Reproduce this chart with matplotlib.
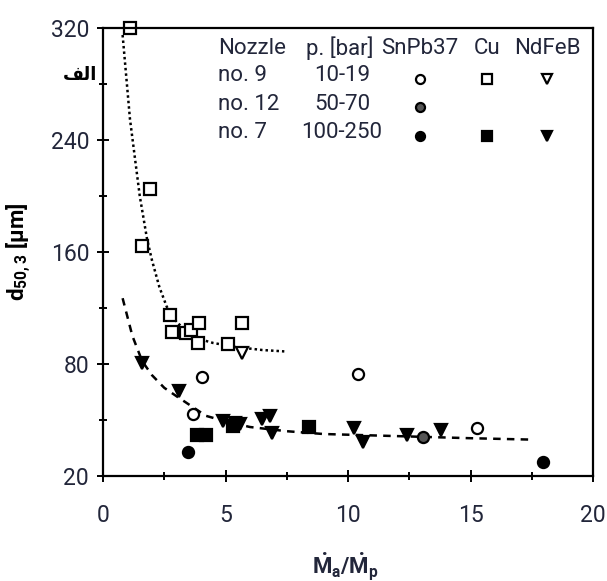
import matplotlib
matplotlib.use("Agg")
import matplotlib.pyplot as plt
from matplotlib.ticker import MultipleLocator

fam = 'Roboto'
plt.rcParams['font.family'] = [fam, 'DejaVu Sans']
plt.rcParams['mathtext.fontset'] = 'custom'
plt.rcParams['mathtext.rm'] = fam
plt.rcParams['mathtext.bf'] = fam + ':bold'
plt.rcParams['mathtext.it'] = fam + ':italic'

TXT = '#22263a'

# SnPb37
snpb_n9_x = [4.05, 3.68, 10.4, 15.25]
snpb_n9_y = [71, 44, 73, 34]
snpb_n12_x = [13.05]
snpb_n12_y = [28]
snpb_n7_x = [3.47, 17.95]
snpb_n7_y = [17, 10]

# Cu
cu_n9_x = [1.1, 1.92, 1.58, 2.73, 2.8, 3.4, 3.6, 3.9, 3.87, 5.1, 5.67]
cu_n9_y = [320, 205, 164, 115, 103, 102, 104, 109, 95, 94, 109]
cu_n7_x = [3.85, 4.2, 5.3, 8.4]
cu_n7_y = [29, 29, 36, 35]

# NdFeB
nd_n9_x = [5.67]
nd_n9_y = [88]
nd_n7_x = [1.6, 3.1, 4.9, 5.4, 5.6, 6.5, 6.8, 6.9, 10.25, 10.6, 12.4, 13.8]
nd_n7_y = [81, 61, 39, 38, 37, 41, 43, 31, 34, 24, 29, 33]

# trend lines
fit_n9_x = [0.8, 1.1, 1.5, 1.8, 2.0, 2.3, 2.6, 3.0, 3.7, 4.5, 5.5, 6.5, 7.4]
fit_n9_y = [315, 255, 200, 169, 154, 135, 121, 110, 99, 95, 92, 90, 89]
fit_n7_x = [0.8, 1.2, 1.6, 2.0, 2.5, 3.0, 3.6, 4.2, 5.0, 6.0, 7.5, 9.0, 11, 13, 15, 17.5]
fit_n7_y = [127, 100, 82, 72, 63, 57, 50, 43, 39, 35, 32, 30, 29, 28, 27, 26]

y_ticks = [0, 80, 160, 240, 320]
y_tick_labels = ['20', '80', '160', '240', '320']

fig = plt.figure(figsize=(6.07, 5.81), dpi=100)
ax = fig.add_axes([0.1697, 0.1807, 0.8073, 0.7711])

ax.plot(fit_n9_x, fit_n9_y, color='k', ls=(0, (1, 1.2)), lw=1.8)
ax.plot(fit_n7_x, fit_n7_y, color='k', ls=(0, (3, 2.5)), lw=1.8)

ms = 8
mk = dict(ls='none', ms=ms, mew=1.6, mec='k', clip_on=False)
ax.plot(snpb_n9_x, snpb_n9_y, 'o', mfc='white', **mk)
ax.plot(snpb_n12_x, snpb_n12_y, 'o', mfc='#555555', **mk)
ax.plot(snpb_n7_x, snpb_n7_y, 'o', mfc='k', **mk)
ax.plot(cu_n9_x, cu_n9_y, 's', mfc='white', **mk)
ax.plot(cu_n7_x, cu_n7_y, 's', mfc='k', **mk)
ax.plot(nd_n9_x, nd_n9_y, 'v', mfc='white', **mk)
ax.plot(nd_n7_x, nd_n7_y, 'v', mfc='k', **mk)

ax.set_xlim(0, 20)
ax.set_ylim(0, 320)
ax.xaxis.set_major_locator(MultipleLocator(5))
ax.xaxis.set_minor_locator(MultipleLocator(2.5))
ax.set_yticks(y_ticks)
ax.set_yticklabels(y_tick_labels)
ax.yaxis.set_minor_locator(MultipleLocator(40))
ax.tick_params(which='both', direction='inout', width=1.4, color='k',
               labelsize=16.5, labelcolor=TXT)
ax.tick_params(which='major', length=8)
ax.tick_params(which='minor', length=6)
ax.tick_params(axis='x', pad=16)
ax.tick_params(axis='y', pad=6)
for s in ax.spines.values():
    s.set_linewidth(1.6)

ax.set_xlabel(r'$\mathbf{\dot{M}_a/\dot{M}_p}$', fontsize=16, color=TXT)
ax.xaxis.set_label_coords(0.494, -0.165)
ax.set_ylabel(r'd$_\mathbf{50,3}$ [µm]', fontsize=16, fontweight='bold',
              color='k')
ax.yaxis.set_label_coords(-0.143, 0.5)

# key table in the upper right
fs = 16
rows_y = [0.893, 0.830, 0.766]
head_y = 0.955
col_noz, col_p, col_sn, col_cu, col_nd = 0.235, 0.488, 0.647, 0.784, 0.906
head = dict(transform=ax.transAxes, fontsize=fs, color=TXT, va='center')
ax.text(col_noz, head_y, 'Nozzle', ha='left', **head)
ax.text(0.484, head_y, 'p. [bar]', ha='center', **head)
ax.text(col_sn, head_y, 'SnPb37', ha='center', **head)
ax.text(col_cu, head_y, 'Cu', ha='center', **head)
ax.text(col_nd, head_y, 'NdFeB', ha='center', **head)

nozzles = ['no. 9', 'no. 12', 'no. 7']
pressures = ['10-19', '50-70', '100-250']
for ry, nz, pr in zip(rows_y, nozzles, pressures):
    ax.text(col_noz, ry, nz, transform=ax.transAxes, fontsize=fs,
            color=TXT, va='center', ha='left')
    ax.text(col_p, ry, pr, transform=ax.transAxes, fontsize=fs,
            color=TXT, va='center', ha='center')

km = dict(transform=ax.transAxes, ls='none', ms=6.5, mew=1.6, mec='k', clip_on=False)
ax.plot([col_sn], [rows_y[0] - 0.006], 'o', mfc='white', **km)
ax.plot([col_cu], [rows_y[0] - 0.006], 's', mfc='white', **km)
ax.plot([col_nd], [rows_y[0] - 0.006], 'v', mfc='white', **km)
ax.plot([col_sn], [rows_y[1] - 0.006], 'o', mfc='#555555', **km)
ax.plot([col_sn], [rows_y[2] - 0.006], 'o', mfc='k', **km)
ax.plot([col_cu], [rows_y[2] - 0.006], 's', mfc='k', **km)
ax.plot([col_nd], [rows_y[2] - 0.006], 'v', mfc='k', **km)

# Arabic caption (visual order, presentation forms)
fig.text(0.132, 0.871, '\ufed2\ufedf\ufe8d', fontsize=13, fontweight='bold',
         family=['DejaVu Sans'], ha='center', va='center')

fig.savefig('out.png', dpi=100)
